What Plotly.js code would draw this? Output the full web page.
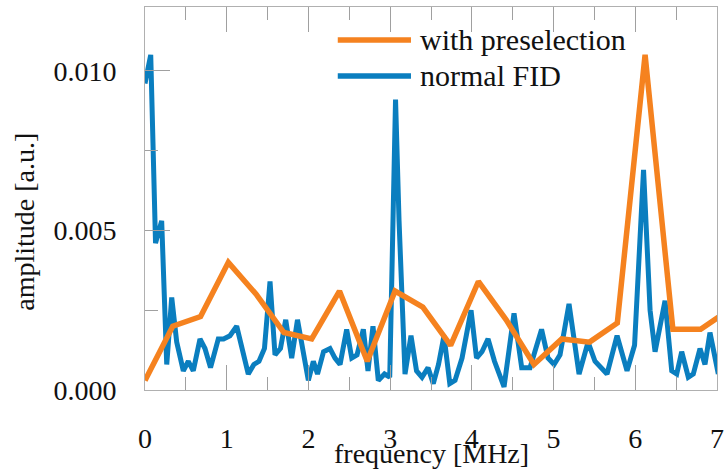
<!DOCTYPE html>
<html>
<head>
<meta charset="utf-8">
<script src="https://cdn.plot.ly/plotly-3.0.1.min.js"></script>
<style>html,body{margin:0;padding:0;background:#fff;}#chart{width:726px;height:470px;}</style>
</head>
<body>
<div id="chart"></div>
<script>
// Frequencies (MHz) and amplitudes (a.u.)
const freqPreselection = [0.00, 0.34, 0.68, 1.02, 1.36, 1.70, 2.04, 2.38, 2.72, 3.06, 3.40, 3.74, 4.08, 4.42, 4.76, 5.10, 5.44, 5.78, 6.12, 6.46, 6.80, 7.14];
const ampPreselection  = [0.0003, 0.0020, 0.0023, 0.0040, 0.0030, 0.0018, 0.0016, 0.0031, 0.0009, 0.0031, 0.0026, 0.0014, 0.0034, 0.0022, 0.0008, 0.0016, 0.0015, 0.0021, 0.0105, 0.0019, 0.0019, 0.0025];

const freqNormal = [0.000, 0.070, 0.129, 0.204, 0.266, 0.327, 0.388, 0.469, 0.530, 0.591,
  0.673, 0.734, 0.802, 0.897, 0.961, 1.040, 1.122, 1.183, 1.264, 1.332,
  1.395, 1.462, 1.530, 1.591, 1.658, 1.722, 1.795, 1.866, 1.937, 1.999,
  2.060, 2.111, 2.185, 2.264, 2.325, 2.387, 2.468, 2.530, 2.595, 2.672,
  2.729, 2.790, 2.855, 2.931, 2.995, 3.066, 3.109, 3.182, 3.255, 3.323,
  3.390, 3.464, 3.528, 3.592, 3.659, 3.730, 3.794, 3.880, 3.990, 4.057,
  4.124, 4.198, 4.277, 4.394, 4.516, 4.610, 4.712, 4.853, 4.932, 5.006,
  5.079, 5.189, 5.312, 5.422, 5.507, 5.654, 5.777, 5.899, 5.991, 6.101,
  6.181, 6.242, 6.364, 6.446, 6.507, 6.568, 6.649, 6.710, 6.792, 6.853,
  6.914, 7.016];
const ampNormal = [0.0096, 0.0105, 0.0046, 0.0053, 0.0008, 0.0029, 0.0015, 0.0006, 0.0009, 0.0006,
  0.0016, 0.0013, 0.0007, 0.0016, 0.0016, 0.0017, 0.0020, 0.0014, 0.0005, 0.0008,
  0.0009, 0.0013, 0.0034, 0.0011, 0.0013, 0.0022, 0.0010, 0.0022, 0.0012, 0.0003,
  0.0009, 0.0005, 0.0012, 0.0013, 0.0010, 0.0008, 0.0019, 0.0010, 0.0011, 0.0019,
  0.0006, 0.0020, 0.0003, 0.0005, 0.0004, 0.0091, 0.0053, 0.0005, 0.0017, 0.0006,
  0.0004, 0.0007, 0.0002, 0.0008, 0.0017, 0.0002, 0.0003, 0.0010, 0.0025, 0.0010,
  0.0012, 0.0016, 0.0009, 0.0001, 0.0024, 0.0007, 0.0007, 0.0019, 0.0010, 0.0008,
  0.0011, 0.0027, 0.0005, 0.0015, 0.0009, 0.0005, 0.0017, 0.0006, 0.0014, 0.0069,
  0.0025, 0.0012, 0.0028, 0.0006, 0.0005, 0.0012, 0.0004, 0.0005, 0.0013, 0.0008,
  0.0018, 0.0005];

const seriesNames = ['with preselection', 'normal FID'];
const xTickVals = [0, 1, 2, 3, 4, 5, 6, 7];
const xTickText = ['0', '1', '2', '3', '4', '5', '6', '7'];
const yTickVals = [0, 0.005, 0.010];
const yTickText = ['0.000', '0.005', '0.010'];

const ORANGE = '#f5821f';
const BLUE = '#0a7ebf';
const FONT = 'Liberation Serif, Times New Roman, serif';

const traces = [
  {x: freqNormal, y: ampNormal, type: 'scatter', mode: 'lines', name: seriesNames[1],
   line: {color: BLUE, width: 5}, showlegend: false},
  {x: freqPreselection, y: ampPreselection, type: 'scatter', mode: 'lines', name: seriesNames[0],
   line: {color: ORANGE, width: 5.5}, showlegend: false}
];

const axisCommon = {
  showgrid: false, zeroline: false, showline: true, linecolor: '#b0b0b0', linewidth: 1,
  ticks: 'inside', ticklen: 25, tickwidth: 1, tickcolor: '#a0a0a0',
  tickfont: {family: FONT, size: 28, color: '#111'}
};

const layout = {
  width: 726, height: 470,
  margin: {l: 145, r: 9, t: 7, b: 80},
  paper_bgcolor: '#fff', plot_bgcolor: '#fff',
  showlegend: false,
  font: {family: FONT, size: 28, color: '#111'},
  xaxis: Object.assign({}, axisCommon, {
    range: [0, 7], tickvals: xTickVals, ticktext: xTickText, mirror: 'ticks',
    ticklabelstandoff: 23,
    minor: {dtick: 0.5, ticklen: 13, tickwidth: 1, tickcolor: '#a0a0a0', ticks: 'inside'},
    title: {text: ''}
  }),
  yaxis: Object.assign({}, axisCommon, {
    range: [0, 0.012], tickvals: yTickVals, ticktext: yTickText, mirror: true,
    ticklabelstandoff: 22,
    minor: {dtick: 0.0025, ticklen: 13, tickwidth: 1, tickcolor: '#a0a0a0', ticks: 'inside'},
    title: {text: ''}
  }),
  shapes: [
    {type: 'line', xref: 'paper', yref: 'paper', x0: 0.337, x1: 0.465, y0: 0.914, y1: 0.914,
     line: {color: ORANGE, width: 5.5}},
    {type: 'line', xref: 'paper', yref: 'paper', x0: 0.337, x1: 0.465, y0: 0.820, y1: 0.820,
     line: {color: BLUE, width: 5.5}}
  ],
  annotations: [
    {xref: 'paper', yref: 'paper', x: 0.477, y: 0.914, xanchor: 'left', yanchor: 'middle',
     text: seriesNames[0], showarrow: false, font: {family: FONT, size: 30, color: '#111'}},
    {xref: 'paper', yref: 'paper', x: 0.477, y: 0.820, xanchor: 'left', yanchor: 'middle',
     text: seriesNames[1], showarrow: false, font: {family: FONT, size: 30, color: '#111'}},
    {xref: 'paper', yref: 'paper', x: -0.211, y: 0.44, xanchor: 'center', yanchor: 'middle',
     text: 'amplitude [a.u.]', textangle: -90, showarrow: false,
     font: {family: FONT, size: 28, color: '#111'}},
    {xref: 'paper', yref: 'paper', x: 0.5, y: -0.166, xanchor: 'center', yanchor: 'middle',
     text: 'frequency [MHz]', showarrow: false,
     font: {family: FONT, size: 28, color: '#111'}}
  ]
};

Plotly.newPlot('chart', traces, layout, {displayModeBar: false, staticPlot: true});
</script>
</body>
</html>
